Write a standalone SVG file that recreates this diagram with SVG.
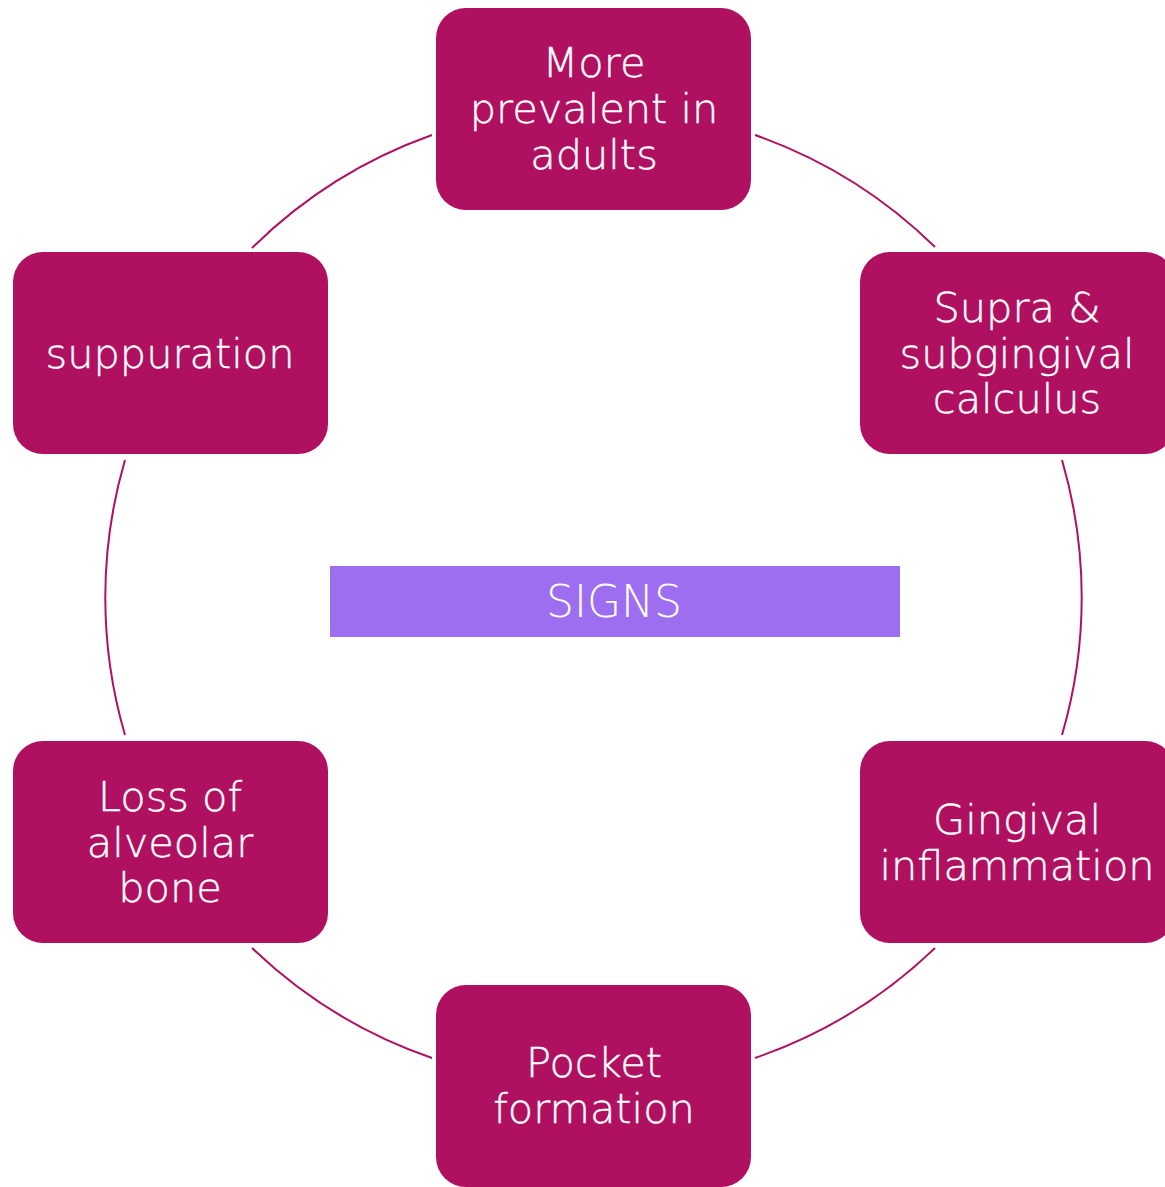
<svg xmlns="http://www.w3.org/2000/svg" width="1165" height="1187" viewBox="0 0 1165 1187">
  <style>
    .box { fill: #B01060; }
    .lbl { fill: #FFFFFF; font-family: "DejaVu Sans", "Liberation Sans", sans-serif; font-weight: 200; font-size: 41.5px; text-anchor: middle; stroke: #FFFFFF; stroke-width: 0.4px; }
    .ring { fill: none; stroke: #B01060; stroke-width: 2; }
    .title { fill: #FFFFFF; font-family: "DejaVu Sans", "Liberation Sans", sans-serif; font-weight: 200; font-size: 44px; text-anchor: middle; }
  </style>
  <rect width="1165" height="1187" fill="#FFFFFF"/>

  <!-- ring segments between the nodes -->
  <g id="connectors">
    <path class="ring" d="M 252 248 A 489.5 489.5 0 0 1 432 135"/>
    <path class="ring" d="M 755 135 A 489.5 489.5 0 0 1 935 247"/>
    <path class="ring" d="M 1062 460 A 489.5 489.5 0 0 1 1062 735"/>
    <path class="ring" d="M 935 948 A 489.5 489.5 0 0 1 755 1058"/>
    <path class="ring" d="M 432 1058 A 489.5 489.5 0 0 1 252 948"/>
    <path class="ring" d="M 125 735 A 489.5 489.5 0 0 1 125 460"/>
  </g>

  <g id="center">
    <rect x="330" y="566" width="570" height="71" fill="#9E6EF0"/>
    <text class="title" x="614" y="617">SIGNS</text>
  </g>

  <g id="node-adults">
    <rect class="box" x="436" y="8" width="315" height="202" rx="30"/>
    <text class="lbl" x="594" y="77">More</text>
    <text class="lbl" x="594" y="123">prevalent in</text>
    <text class="lbl" x="594" y="169">adults</text>
  </g>

  <g id="node-calculus">
    <rect class="box" x="860" y="252" width="315" height="202" rx="30"/>
    <text class="lbl" x="1017" y="322">Supra &amp;</text>
    <text class="lbl" x="1017" y="368">subgingival</text>
    <text class="lbl" x="1017" y="413">calculus</text>
  </g>

  <g id="node-inflammation">
    <rect class="box" x="860" y="741" width="315" height="202" rx="30"/>
    <text class="lbl" x="1017" y="834">Gingival</text>
    <text class="lbl" x="1017" y="880">inflammation</text>
  </g>

  <g id="node-pocket">
    <rect class="box" x="436" y="985" width="315" height="202" rx="30"/>
    <text class="lbl" x="594" y="1077">Pocket</text>
    <text class="lbl" x="594" y="1123">formation</text>
  </g>

  <g id="node-bone">
    <rect class="box" x="13" y="741" width="315" height="202" rx="30"/>
    <text class="lbl" x="170" y="811">Loss of</text>
    <text class="lbl" x="170" y="857">alveolar</text>
    <text class="lbl" x="170" y="902">bone</text>
  </g>

  <g id="node-suppuration">
    <rect class="box" x="13" y="252" width="315" height="202" rx="30"/>
    <text class="lbl" x="170" y="368">suppuration</text>
  </g>
</svg>
